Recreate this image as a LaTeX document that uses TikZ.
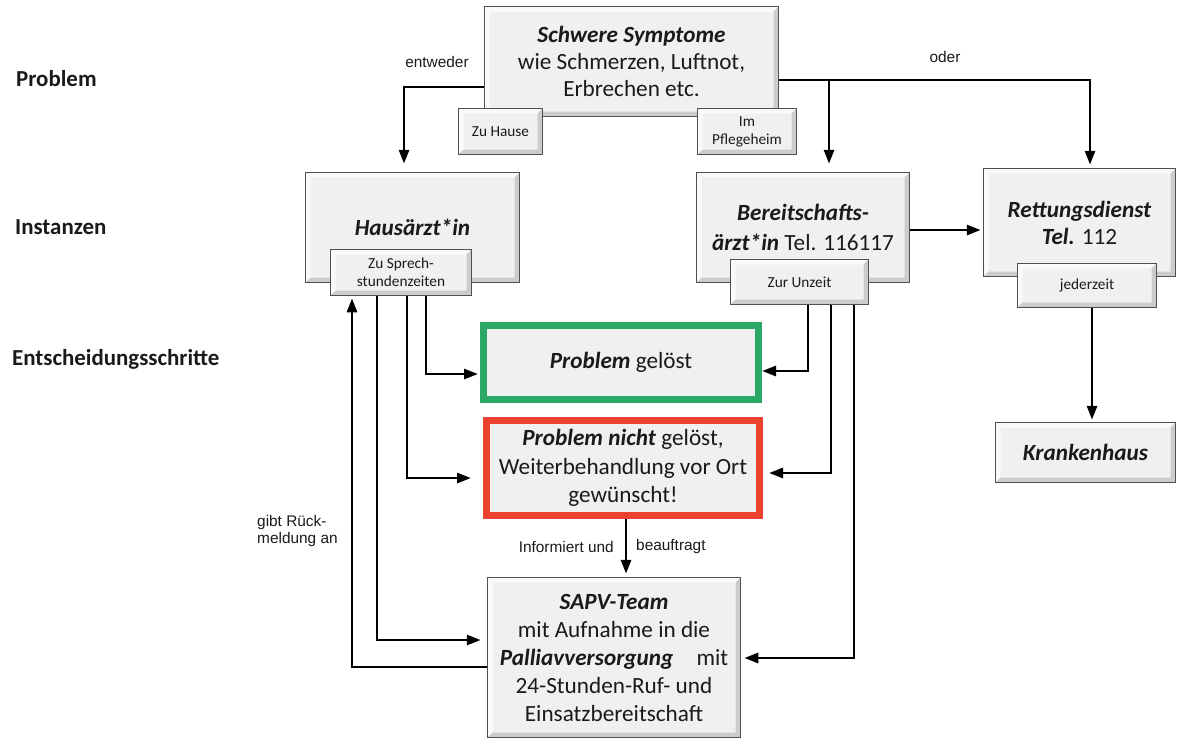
\documentclass[tikz,border=0pt]{standalone}
\usepackage{fontspec}
\setmainfont{Carlito}
\newfontfamily\arialf{Liberation Sans}
\usetikzlibrary{arrows.meta}
\definecolor{boxfill}{HTML}{EFF0F0}
\definecolor{boxline}{HTML}{505050}
\definecolor{bevlight}{HTML}{FAFAFA}
\definecolor{bevdark}{HTML}{CBCCCC}
\definecolor{grn}{HTML}{2BA866}
\definecolor{rd}{HTML}{E9432F}
\definecolor{txt}{HTML}{1A1A1A}
\tikzset{
  bevel/.style={path picture={
    \coordinate (bsw) at (path picture bounding box.south west);
    \coordinate (bne) at (path picture bounding box.north east);
    \coordinate (bnw) at (bsw|-bne);
    \coordinate (bse) at (bne|-bsw);
    \fill[bevlight] (bsw) -- (bnw) -- (bne) -- ([shift={(-5pt,-5pt)}]bne) -- ([shift={(5pt,-5pt)}]bnw) -- ([shift={(5pt,5pt)}]bsw) -- cycle;
    \fill[bevdark] (bsw) -- (bse) -- (bne) -- ([shift={(-5pt,-5pt)}]bne) -- ([shift={(-5pt,5pt)}]bse) -- ([shift={(5pt,5pt)}]bsw) -- cycle;
  }},
  box/.style={draw=boxline, line width=1.5pt, fill=boxfill, bevel, inner sep=0pt, align=center,
    text=txt, font=\fontsize{23.2}{27}\selectfont},
  smallbox/.style={box, font=\fontsize{15.3}{18}\selectfont},
  greenbox/.style={draw=grn, line width=7pt, fill=boxfill, inner sep=0pt, align=center,
    text=txt, font=\fontsize{23.2}{28}\selectfont},
  redbox/.style={draw=rd, line width=7pt, fill=boxfill, inner sep=0pt, align=center,
    text=txt, font=\fontsize{23.2}{28.5}\selectfont},
  lbl/.style={font=\arialf\fontsize{15.4}{17}\selectfont, inner sep=0pt, text=txt},
  side/.style={font=\bfseries\fontsize{22.9}{26}\selectfont, inner sep=0pt, anchor=west, text=txt},
  conn/.style={line width=2.8pt, -{Triangle[length=14pt,width=10pt]}}
}
\newcommand{\bix}[1]{\textbf{\textit{#1}}}
\begin{document}
\begin{tikzpicture}[x=1pt,y=-1pt]
\useasboundingbox (0,0) rectangle (1180,739);

% side labels
\node[side] (lp) at (16,79) {Problem};
\node[side] (li) at (15,227) {Instanzen};
\node[side] (le) at (12,359) {Entscheidungsschritte};

% main boxes
\node[box, minimum width=294pt, minimum height=110pt] (sym) at (631.5,61.5)
  {\bix{Schwere Symptome}\\wie Schmerzen, Luftnot,\\Erbrechen etc.};
\node[box, minimum width=214pt, minimum height=110pt] (haus) at (412.5,227.5) {\raisebox{-2pt}{\bix{Hausärzt*in}}};
\node[box, minimum width=213pt, minimum height=110pt, font=\fontsize{23.2}{30}\selectfont] (bereit) at (803,227.5)
  {\bix{Bereitschafts-}\\\bix{ärzt*in} Tel. 116117};
\node[box, minimum width=192pt, minimum height=108pt] (rett) at (1079.5,222.5)
  {\bix{Rettungsdienst}\\\bix{Tel.} 112};
\node[box, minimum width=180pt, minimum height=60pt] (kh) at (1085.5,452.5) {\bix{Krankenhaus}};
\node[greenbox, minimum width=275pt, minimum height=74pt] (gruen) at (621,362.5) {\bix{Problem} gelöst};
\node[redbox, minimum width=273pt, minimum height=95pt] (rot) at (623,468)
  {\bix{Problem nicht} gelöst,\\Weiterbehandlung vor Ort\\gewünscht!};
\node[box, minimum width=253pt, minimum height=160pt, font=\fontsize{23.2}{28}\selectfont] (sapv) at (614,657.5)
  {\bix{SAPV-Team}\\mit Aufnahme in die\\\bix{Palliavversorgung}\quad mit\\24-Stunden-Ruf- und\\Einsatzbereitschaft};

% small boxes
\node[smallbox, minimum width=84pt, minimum height=46pt] (hause) at (500.5,131.5) {Zu Hause};
\node[smallbox, minimum width=99pt, minimum height=46pt] (pflege) at (747,131.5) {Im\\Pflegeheim};
\node[smallbox, minimum width=141pt, minimum height=46pt] (sprech) at (401,272.5) {Zu Sprech-\\stundenzeiten};
\node[smallbox, minimum width=138pt, minimum height=45pt] (unzeit) at (799.5,282) {Zur Unzeit};
\node[smallbox, minimum width=139pt, minimum height=44pt] (jeder) at (1087,285.5) {jederzeit};

% helper coordinates
\coordinate (e1) at (404,87);
\coordinate (o1) at (1090,80);
\coordinate (b1) at (829,80);
\coordinate (r1) at (0,230);

% connectors from symptoms
\draw[conn, shorten >=8pt] (sym.west|-e1) -| (haus.north-|e1);
\draw[conn, shorten >=3pt] (sym.east|-o1) -| (rett.north-|o1);
\draw[conn, shorten >=8pt] (b1) -- (bereit.north-|b1);
\draw[conn, shorten >=2pt] (bereit.east|-r1) -- (rett.west|-r1);

% from Hausaerzt*in
\coordinate (h1) at (352,667);
\coordinate (h2) at (377,640);
\coordinate (h3) at (407,478);
\coordinate (h4) at (426,374);
\draw[conn, shorten >=2pt] (sapv.west|-h1) -| (sprech.south-|h1);
\draw[conn, shorten >=6pt] (sprech.south-|h2) |- (sapv.west|-h2);
\draw[conn, shorten >=12pt] (sprech.south-|h3) |- (rot.west|-h3);
\draw[conn, shorten >=2pt] (sprech.south-|h4) |- (gruen.west|-h4);

% from Bereitschaftsarzt
\coordinate (u1) at (808,371);
\coordinate (u2) at (831,473);
\coordinate (u3) at (854,658);
\draw[conn] (unzeit.south-|u1) |- (gruen.east|-u1);
\draw[conn, shorten >=6pt] (unzeit.south-|u2) |- (rot.east|-u2);
\draw[conn, shorten >=3pt] (unzeit.south-|u3) |- (sapv.east|-u3);

% red to SAPV
\coordinate (m1) at (626,0);
\draw[conn, shorten >=3pt] (rot.south-|m1) -- (sapv.north-|m1);

% jederzeit to Krankenhaus
\coordinate (k1) at (1092,0);
\draw[conn, shorten >=2pt] (jeder.south-|k1) -- (kh.north-|k1);

% labels
\node[lbl] (tent) at (437,62) {entweder};
\node[lbl] (toder) at (945,57) {oder};
\node[lbl, anchor=west, align=left] (trueck) at (257,531) {gibt Rück-\\meldung an};
\node[lbl, anchor=east] (tinf) at (614,547) {Informiert und};
\node[lbl, anchor=west] (tbeauf) at (636,547) {beauftragt};
\end{tikzpicture}
\end{document}
